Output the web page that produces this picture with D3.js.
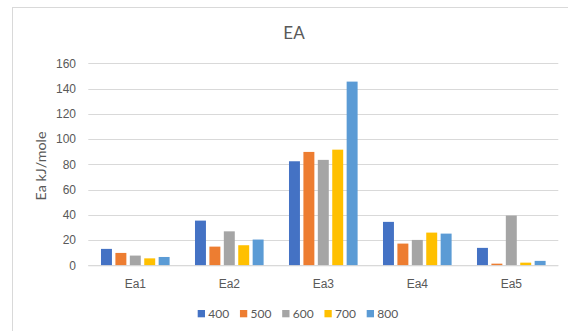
<!DOCTYPE html>
<html>
<head>
<meta charset="utf-8">
<script src="https://cdn.jsdelivr.net/npm/d3@7"></script>
<style>
  html, body { margin: 0; padding: 0; background: #fff; }
  svg { display: block; font-family: Lato, "Liberation Sans", sans-serif; }
</style>
</head>
<body>
<svg id="chart" width="568" height="331"></svg>
<script>
// Activation energy per step (kJ/mole) at each temperature
const categories = ["Ea1", "Ea2", "Ea3", "Ea4", "Ea5"];
const seriesNames = ["400", "500", "600", "700", "800"];
const values400 = [13.0, 35.4, 82.4, 34.4, 13.8];
const values500 = [9.8, 14.8, 89.8, 17.2, 1.3];
const values600 = [7.7, 26.9, 83.5, 20.1, 39.4];
const values700 = [5.5, 15.9, 91.6, 25.9, 2.1];
const values800 = [6.6, 20.4, 145.5, 25.1, 3.5];
const yTicks = [0, 20, 40, 60, 80, 100, 120, 140, 160];
const colors = ["#4472C4", "#ED7D31", "#A5A5A5", "#FFC000", "#5B9BD5"];

const seriesValues = [values400, values500, values600, values700, values800];
const series = seriesNames.map((name, i) => ({ name, color: colors[i], values: seriesValues[i] }));

const svg = d3.select("#chart");
const textColor = "#595959";
const gridColor = "#D9D9D9";

// chart area frame
svg.append("rect")
  .attr("x", 12.5).attr("y", 7.5)
  .attr("width", 600).attr("height", 400)
  .attr("fill", "#fff").attr("stroke", gridColor).attr("stroke-width", 1);

const plot = { left: 88.3, right: 558.3, top: 63.3, bottom: 265.3 };

const x0 = d3.scaleBand().domain(categories).range([plot.left, plot.right]).paddingInner(0).paddingOuter(0);
const groupInner = x0.bandwidth() * 0.73;
const x1 = d3.scaleBand().domain(seriesNames)
  .range([(x0.bandwidth() - groupInner) / 2, (x0.bandwidth() + groupInner) / 2])
  .paddingInner(0.24);
const y = d3.scaleLinear().domain([0, 160]).range([plot.bottom, plot.top]);

// gridlines
svg.append("g")
  .selectAll("line").data(yTicks).join("line")
  .attr("x1", plot.left).attr("x2", plot.right)
  .attr("y1", d => Math.round(y(d)) + 0.5).attr("y2", d => Math.round(y(d)) + 0.5)
  .attr("stroke", gridColor).attr("stroke-width", 1);

// y axis labels
const yAxis = d3.axisLeft(y).tickValues(yTicks).tickSize(0).tickPadding(0);
const yg = svg.append("g").attr("transform", `translate(76,0)`).call(yAxis);
yg.select(".domain").remove();
yg.selectAll("text").attr("fill", textColor).attr("font-size", 12).attr("font-family", "inherit");

// bars
const groups = svg.append("g").selectAll("g").data(categories).join("g")
  .attr("transform", d => `translate(${x0(d)},0)`);
groups.selectAll("rect")
  .data((c, ci) => series.map(s => ({ name: s.name, color: s.color, v: s.values[ci] })))
  .join("rect")
  .attr("x", d => x1(d.name))
  .attr("width", x1.bandwidth())
  .attr("y", d => y(d.v))
  .attr("height", d => y(0) - y(d.v))
  .attr("fill", d => d.color);

// category axis
const xAxis = d3.axisBottom(x0).tickSize(0).tickPadding(0);
const xg = svg.append("g").attr("transform", `translate(0,${plot.bottom})`).call(xAxis);
xg.select(".domain").attr("stroke", gridColor).attr("d", `M${plot.left},0.5H${plot.right}`);
xg.selectAll("text").remove();
xg.selectAll(".tick").append("text")
  .attr("y", 23).attr("text-anchor", "middle")
  .attr("fill", textColor).attr("font-size", 12)
  .text(d => d);

// axis title
svg.append("text")
  .attr("transform", "translate(46,166) rotate(-90)")
  .attr("text-anchor", "middle")
  .attr("fill", textColor).attr("font-size", 14.3)
  .text("Ea kJ/mole");

// chart title
svg.append("text")
  .attr("x", 294).attr("y", 38.5)
  .attr("text-anchor", "middle")
  .attr("fill", textColor).attr("font-size", 17)
  .text("EA");

// legend
const legend = svg.append("g").attr("transform", "translate(197.7,310)");
const item = legend.selectAll("g").data(series).join("g")
  .attr("transform", (d, i) => `translate(${i * 42.25},0)`);
item.append("rect").attr("width", 7.3).attr("height", 7.3).attr("fill", d => d.color);
item.append("text").attr("x", 10.6).attr("y", 7.6)
  .attr("fill", textColor).attr("font-size", 12).text(d => d.name);
</script>
</body>
</html>
